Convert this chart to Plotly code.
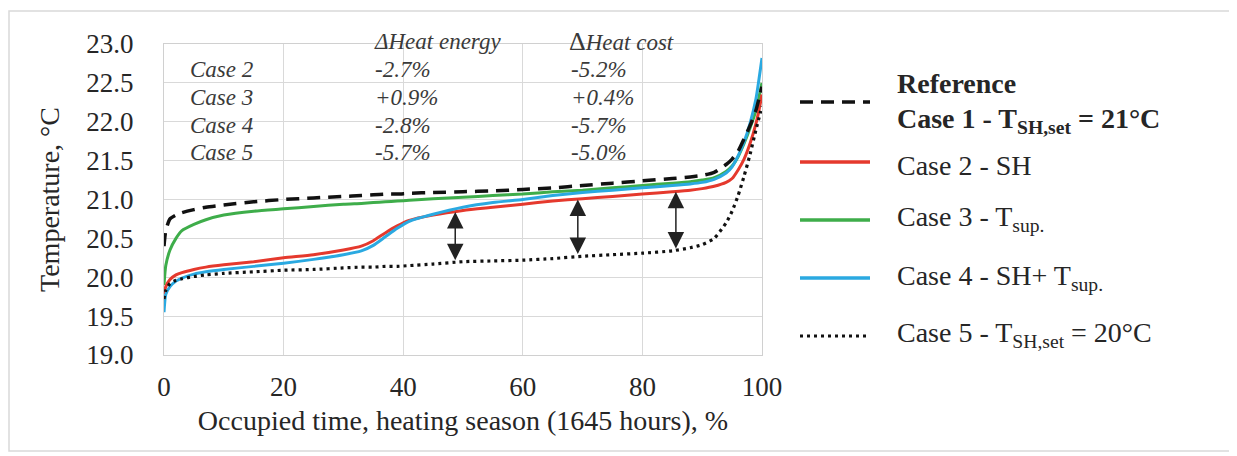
import plotly.graph_objects as go

# ---------------- data ----------------
occ_time = [0, 0.3, 1, 2, 3, 5, 7, 10, 15, 20, 25, 30, 33, 35, 37, 39, 41, 45, 50, 55,
            60, 65, 70, 75, 80, 85, 88, 90, 92, 94, 95, 96, 97, 98, 99, 99.5, 100]

case1_ref = [20.40, 20.60, 20.75, 20.80, 20.83, 20.87, 20.90, 20.93, 20.97, 21.00, 21.02, 21.04,
             21.05, 21.06, 21.07, 21.07, 21.08, 21.09, 21.10, 21.11, 21.13, 21.15, 21.18, 21.21,
             21.24, 21.27, 21.29, 21.31, 21.35, 21.45, 21.52, 21.62, 21.78, 21.95, 22.15, 22.30, 22.45]

case2_sh = [19.78, 19.88, 19.97, 20.03, 20.06, 20.10, 20.13, 20.16, 20.20, 20.25, 20.29, 20.35,
            20.40, 20.47, 20.57, 20.66, 20.73, 20.80, 20.86, 20.90, 20.94, 20.98, 21.01, 21.04,
            21.07, 21.10, 21.12, 21.14, 21.17, 21.22, 21.27, 21.38, 21.52, 21.72, 21.98, 22.15, 22.35]

case3_tsup = [19.90, 20.15, 20.35, 20.50, 20.60, 20.68, 20.74, 20.80, 20.85, 20.88, 20.91, 20.94,
              20.95, 20.96, 20.97, 20.98, 20.99, 21.01, 21.03, 21.05, 21.07, 21.10, 21.12, 21.15,
              21.18, 21.21, 21.23, 21.25, 21.28, 21.36, 21.43, 21.55, 21.72, 21.92, 22.15, 22.32, 22.50]

case4_sh_tsup = [19.55, 19.78, 19.88, 19.95, 19.99, 20.04, 20.07, 20.10, 20.14, 20.18, 20.23, 20.29,
                 20.34, 20.41, 20.52, 20.63, 20.72, 20.81, 20.90, 20.96, 21.00, 21.05, 21.09, 21.12,
                 21.15, 21.18, 21.20, 21.22, 21.26, 21.34, 21.42, 21.56, 21.74, 21.98, 22.30, 22.55, 22.82]

case5_20 = [19.72, 19.83, 19.92, 19.96, 19.98, 20.01, 20.03, 20.05, 20.07, 20.09, 20.10, 20.12,
            20.13, 20.13, 20.14, 20.14, 20.15, 20.17, 20.20, 20.21, 20.22, 20.24, 20.27, 20.29,
            20.31, 20.34, 20.38, 20.42, 20.50, 20.70, 20.85, 21.05, 21.30, 21.58, 21.90, 22.05, 22.20]

# difference arrows (x position, top temperature, bottom temperature)
arrow_x = [48.7, 69.2, 85.6]
arrow_top = [20.84, 21.00, 21.10]
arrow_bottom = [20.20, 20.28, 20.35]

# inset table
table_cases = ["Case 2", "Case 3", "Case 4", "Case 5"]
d_heat_energy = ["-2.7%", "+0.9%", "-2.8%", "-5.7%"]
d_heat_cost = ["-5.2%", "+0.4%", "-5.7%", "-5.0%"]
table_rows_y = [22.67, 22.31, 21.95, 21.60]

x_ticks = [0, 20, 40, 60, 80, 100]
y_ticks = [19.0, 19.5, 20.0, 20.5, 21.0, 21.5, 22.0, 22.5, 23.0]

# ---------------- styling / layout ----------------
OFF = 8                      # page body margin of the html output
W, H = 1237 - OFF, 456 - OFF
L, R, T, B = 164, 762, 44, 355   # plot area in reference-page pixels
FONT = "Liberation Serif"
TXT = "#262626"
RED, GREEN, BLUE = "#e5392d", "#3ead4a", "#2aa9e1"

def px(xp):
    return (xp - L) / (R - L)

def py(yp):
    return (B - yp) / (B - T)

fig = go.Figure()

series = [
    (case1_ref, "Reference Case 1", dict(color="#111111", width=3.5, dash="13px,8px")),
    (case2_sh, "Case 2 - SH", dict(color=RED, width=3)),
    (case3_tsup, "Case 3 - Tsup.", dict(color=GREEN, width=3)),
    (case4_sh_tsup, "Case 4 - SH+ Tsup.", dict(color=BLUE, width=3)),
    (case5_20, "Case 5", dict(color="#111111", width=3.2, dash="3px,4px")),
]
for idx in [2, 1, 3, 0, 4]:
    vals, name, line = series[idx]
    fig.add_trace(go.Scatter(x=occ_time, y=vals, mode="lines", name=name,
                             line=dict(shape="spline", smoothing=0.6, **line),
                             showlegend=False, hoverinfo="skip"))

# arrows
for xa, yt, yb in zip(arrow_x, arrow_top, arrow_bottom):
    fig.add_annotation(x=xa, y=yt, ax=xa, ay=yb, xref="x", yref="y", axref="x", ayref="y",
                       text="", showarrow=True, arrowhead=2, startarrowhead=2,
                       arrowside="end+start", arrowsize=2.2, startarrowsize=2.2,
                       arrowwidth=1.5, arrowcolor="#222222")

# inset table text
tfont = dict(family=FONT, size=23, color="#3a3a3a", style="italic")
fig.add_annotation(x=px(372), y=py(41), xref="paper", yref="paper", text="ΔHeat energy",
                   showarrow=False, xanchor="left", yanchor="middle", font=tfont)
fig.add_annotation(x=px(567), y=py(41), xref="paper", yref="paper",
                   text="<span style='font-style:normal;font-size:26px'>Δ</span>Heat cost",
                   showarrow=False, xanchor="left", yanchor="middle", font=tfont)
for c, e, k, yv in zip(table_cases, d_heat_energy, d_heat_cost, table_rows_y):
    fig.add_annotation(x=px(188), y=yv, xref="paper", yref="y", text=c, showarrow=False,
                       xanchor="left", yanchor="middle", font=tfont)
    fig.add_annotation(x=px(373), y=yv, xref="paper", yref="y", text=e, showarrow=False,
                       xanchor="left", yanchor="middle", font=tfont)
    fig.add_annotation(x=px(569), y=yv, xref="paper", yref="y", text=k, showarrow=False,
                       xanchor="left", yanchor="middle", font=tfont)

# legend (drawn manually)
lfont = dict(family=FONT, size=28, color=TXT)
leg_x0, leg_x1, leg_tx = px(800), px(870), px(895)
legend_items = [
    (102, None, dict(color="#111111", width=3.5, dash="13px,8px"), None),
    (162, 165, dict(color=RED, width=3.5), "Case 2 - SH"),
    (220, 218, dict(color=GREEN, width=3.5), "Case 3 - T<sub>sup.</sub>"),
    (278, 277, dict(color=BLUE, width=3.5), "Case 4 - SH+ T<sub>sup.</sub>"),
    (336, 334, dict(color="#111111", width=3, dash="3px,4px"), "Case 5 - T<sub>SH,set</sub> = 20°C"),
]
for yp, yt, ln, label in legend_items:
    fig.add_shape(type="line", xref="paper", yref="paper", x0=leg_x0, x1=leg_x1,
                  y0=py(yp), y1=py(yp), line=ln)
    if label:
        fig.add_annotation(x=leg_tx, y=py(yt), xref="paper", yref="paper", text=label,
                           showarrow=False, xanchor="left", yanchor="middle", font=lfont)
fig.add_annotation(x=leg_tx, y=py(83), xref="paper", yref="paper", text="<b>Reference</b>",
                   showarrow=False, xanchor="left", yanchor="middle", font=lfont)
fig.add_annotation(x=leg_tx, y=py(121), xref="paper", yref="paper",
                   text="<b>Case 1 - T<sub>SH,set</sub> = 21°C</b>",
                   showarrow=False, xanchor="left", yanchor="middle", font=lfont)

# outer frame
fig.add_shape(type="rect", xref="paper", yref="paper", x0=px(9), x1=px(1232), y0=py(451), y1=py(11),
              line=dict(color="#d9d9d9", width=1.5), layer="below")

fig.update_layout(
    width=W, height=H,
    margin=dict(l=L - OFF, r=W - (R - OFF), t=T - OFF, b=H - (B - OFF)),
    paper_bgcolor="white", plot_bgcolor="white",
    font=dict(family=FONT, color=TXT),
    showlegend=False,
    xaxis=dict(range=[0, 100], tickvals=x_ticks, ticktext=[str(v) for v in x_ticks],
               showgrid=True, gridcolor="#d9d9d9", gridwidth=1.2, zeroline=False,
               showline=True, linecolor="#d0d0d0", linewidth=1.2, mirror=True,
               ticks="", ticklabelstandoff=7, tickfont=dict(family=FONT, size=27, color=TXT),
               title=dict(text="Occupied time, heating season (1645 hours), %",
                          font=dict(family=FONT, size=28, color=TXT), standoff=9)),
    yaxis=dict(range=[19, 23], tickvals=y_ticks, ticktext=[f"{v:.1f}" for v in y_ticks],
               showgrid=True, gridcolor="#d9d9d9", gridwidth=1.2, zeroline=False,
               showline=True, linecolor="#d0d0d0", linewidth=1.2, mirror=True,
               ticks="", ticklabelstandoff=24, tickfont=dict(family=FONT, size=27, color=TXT),
               title=dict(text="Temperature, °C", font=dict(family=FONT, size=28, color=TXT),
                          standoff=18)),
)

fig.write_html("out.html")
